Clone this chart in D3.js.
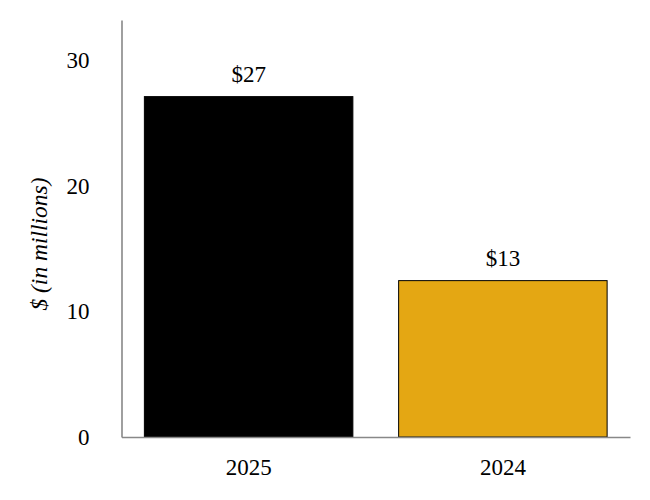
<!DOCTYPE html>
<html>
<head>
<meta charset="utf-8">
<script src="https://cdn.jsdelivr.net/npm/d3@7"></script>
<style>
    body { margin: 0; background: #fff; }
    text { font-family: "Liberation Serif", "Times New Roman", serif; fill: #000; }
</style>
</head>
<body>
<div id="chart"></div>
<script>

// data
var years = ["2025", "2024"];
var values = [27.1, 12.45];
var valueLabels = ["$27", "$13"];
var barColors = ["#000000", "#E4A713"];
var yTicks = [0, 10, 20, 30];
var yTitle = "$ (in millions)";

var width = 650,
    height = 500;

var margin = {
    top: 20,
    bottom: 63,
    left: 121.5,
    right: 20
};

var svg = d3.select("#chart")
    .append("svg")
    .attr("width", width)
    .attr("height", height);

var x = d3.scaleBand()
    .domain(years)
    .range([margin.left, width - margin.right])
    .paddingInner(0.18)
    .paddingOuter(0.09);

var y = d3.scaleLinear()
    .domain([0, 33.2])
    .range([height - margin.bottom, margin.top]);

var data = years.map(function (d, i) {
    return { year: d, value: values[i], label: valueLabels[i], color: barColors[i] };
});

// bars
svg.append("g")
    .selectAll("rect")
    .data(data)
    .enter().append("rect")
    .attr("x", function (d) { return x(d.year); })
    .attr("width", x.bandwidth())
    .attr("y", function (d) { return y(d.value); })
    .attr("height", function (d) { return y(0) - y(d.value); })
    .attr("fill", function (d) { return d.color; })
    .attr("stroke", "#000")
    .attr("stroke-width", 1);

// value labels
svg.append("g")
    .selectAll("text")
    .data(data)
    .enter().append("text")
    .attr("x", function (d) { return x(d.year) + x.bandwidth() / 2; })
    .attr("y", function (d) { return y(d.value) - 15; })
    .attr("text-anchor", "middle")
    .attr("font-size", "23px")
    .text(function (d) { return d.label; });

// y axis
var yAxis = svg.append("g")
    .attr("transform", "translate(" + margin.left + ",0)")
    .call(d3.axisLeft(y).tickValues(yTicks).tickSize(0).tickPadding(32));

// x axis
var xAxis = svg.append("g")
    .attr("transform", "translate(0," + y(0) + ")")
    .call(d3.axisBottom(x).tickSize(0).tickPadding(22));

[yAxis, xAxis].forEach(function (g) {
    g.select(".domain")
        .attr("stroke", "#888")
        .attr("stroke-width", 1.6);
    g.selectAll("text")
        .attr("font-size", "23px")
        .attr("fill", "#000");
});

// y axis title
svg.append("text")
    .attr("transform", "translate(47,244) rotate(-90)")
    .attr("text-anchor", "middle")
    .attr("font-size", "23.5px")
    .attr("font-style", "italic")
    .text(yTitle);

</script>
</body>
</html>
